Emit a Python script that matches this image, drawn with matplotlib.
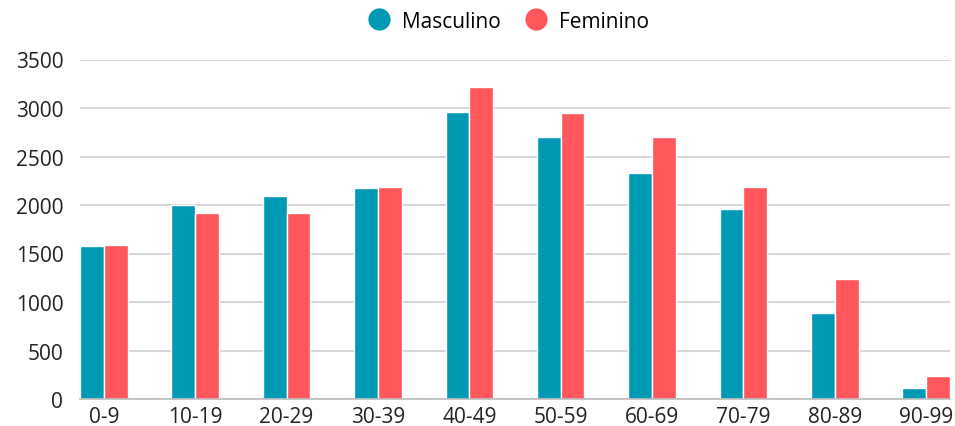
import numpy as np
import matplotlib.pyplot as plt
from matplotlib.lines import Line2D

plt.rcParams['font.family'] = ['Open Sans', 'DejaVu Sans']

age_groups = ['0-9', '10-19', '20-29', '30-39', '40-49',
              '50-59', '60-69', '70-79', '80-89', '90-99']
masculino = [1575, 2000, 2090, 2175, 2960, 2700, 2330, 1955, 890, 115]
feminino = [1585, 1915, 1920, 2190, 3220, 2950, 2700, 2185, 1240, 235]

color_m = '#0099B3'
color_f = '#FF575C'

fig = plt.figure(figsize=(9.55, 4.27), dpi=100)
ax = fig.add_axes([80 / 955, 1 - 400 / 427, 870 / 955, 339.5 / 427])

x = np.arange(len(age_groups))
w = 0.26
ax.bar(x - w / 2, masculino, width=w, color=color_m, edgecolor='white', linewidth=1, zorder=3)
ax.bar(x + w / 2, feminino, width=w, color=color_f, edgecolor='white', linewidth=1, zorder=3)

ax.set_xlim(-w, len(age_groups) - 1 + w)
ax.set_ylim(0, 3500)
ax.set_yticks(range(0, 3501, 500))
ax.set_xticks(x)
ax.set_xticklabels(age_groups)
ax.tick_params(axis='both', length=0, labelsize=15, colors='#222222')
ax.tick_params(axis='y', pad=12)
ax.tick_params(axis='x', pad=5)

ax.grid(axis='y', color='#d0d0d0', linewidth=1.2, zorder=0)
for s in ['top', 'right', 'left']:
    ax.spines[s].set_visible(False)
ax.spines['bottom'].set_color('#bbbbbb')
ax.spines['bottom'].set_linewidth(1.2)
ax.spines['bottom'].set_zorder(4)

handles = [Line2D([0], [0], marker='o', color='w', markerfacecolor=color_m, markersize=17, label='Masculino'),
           Line2D([0], [0], marker='o', color='w', markerfacecolor=color_f, markersize=17, label='Feminino')]
fig.legend(handles=handles, loc='center', bbox_to_anchor=(0.532, 1 - 22 / 427), ncol=2,
           frameon=False, fontsize=15, handletextpad=0.5, columnspacing=1.1, handlelength=1.2)

fig.savefig('out.png', dpi=100)
